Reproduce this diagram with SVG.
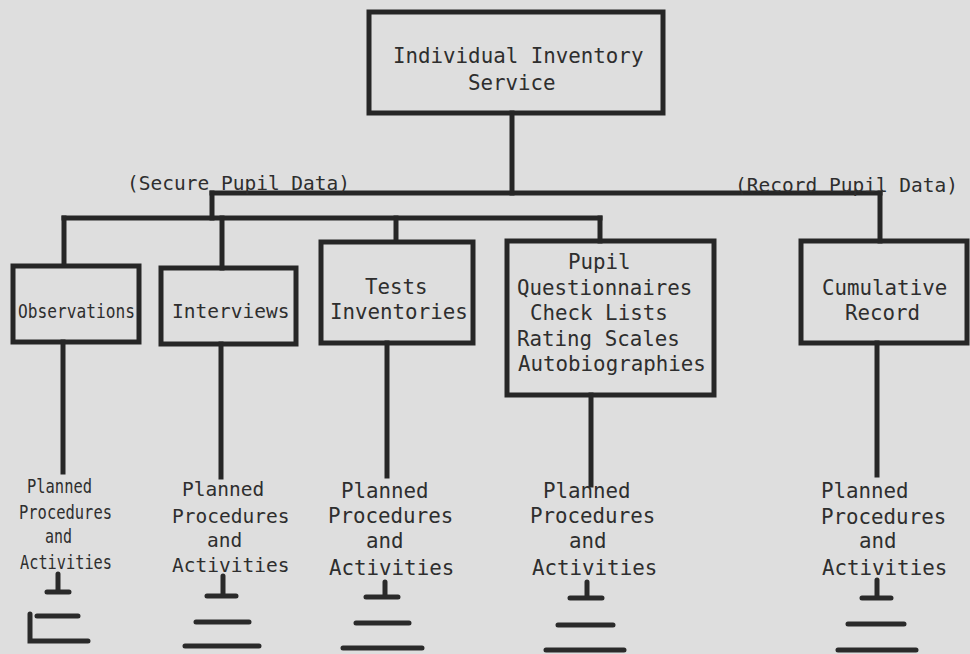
<svg xmlns="http://www.w3.org/2000/svg" width="970" height="654" viewBox="0 0 970 654">
  <style>
    .bg { fill: #dedede; }
    .box { fill: none; stroke: #262626; stroke-width: 5; stroke-linejoin: miter; }
    .wire { fill: none; stroke: #262626; stroke-width: 5; stroke-linecap: square; }
    .mark { fill: none; stroke: #2a2a2a; stroke-width: 5; stroke-linecap: round; }
    text { font-family: "DejaVu Sans Mono", "Liberation Mono", monospace; fill: #2e2e2e; font-size: 20.8px; }
    .sm { font-size: 19px; }
    .md { font-size: 19.5px; }
  </style>

  <rect class="bg" x="0" y="0" width="970" height="654"/>

  <!-- tree connectors -->
  <g id="connectors">
    <path class="wire" d="M512,113 V193"/>
    <path class="wire" d="M212,193 H880"/>
    <path class="wire" d="M212,193 V218"/>
    <path class="wire" d="M64,218 H600"/>
    <path class="wire" d="M64,218 V265"/>
    <path class="wire" d="M222,218 V268"/>
    <path class="wire" d="M396,218 V241"/>
    <path class="wire" d="M600,218 V241"/>
    <path class="wire" d="M880,193 V241"/>
    <!-- drops from each box to its activity list -->
    <path class="wire" d="M63,342 V472"/>
    <path class="wire" d="M221,344 V477"/>
    <path class="wire" d="M387,343 V476"/>
    <path class="wire" d="M591,395 V485"/>
    <path class="wire" d="M877,343 V475"/>
  </g>

  <g id="inventory-service">
    <rect class="box" x="369" y="12" width="294" height="101"/>
    <text x="393" y="63">Individual Inventory</text>
    <text x="468" y="90">Service</text>
  </g>

  <g id="branch-labels">
    <text class="md" x="127" y="190">(Secure Pupil Data)</text>
    <text class="md" x="735" y="192">(Record Pupil Data)</text>
  </g>

  <g id="observations">
    <rect class="box" x="13" y="266" width="126" height="76"/>
    <text class="sm" x="18" y="318" textLength="117" lengthAdjust="spacingAndGlyphs">Observations</text>
  </g>

  <g id="interviews">
    <rect class="box" x="161" y="268" width="135" height="76"/>
    <text class="md" x="172" y="318">Interviews</text>
  </g>

  <g id="tests-inventories">
    <rect class="box" x="321" y="242" width="152" height="101"/>
    <text x="365" y="294">Tests</text>
    <text x="330" y="319">Inventories</text>
  </g>

  <g id="pupil-instruments">
    <rect class="box" x="507" y="241" width="207" height="154"/>
    <text x="568" y="269">Pupil</text>
    <text x="517" y="295">Questionnaires</text>
    <text x="530" y="320">Check Lists</text>
    <text x="517" y="346">Rating Scales</text>
    <text x="518" y="371">Autobiographies</text>
  </g>

  <g id="cumulative-record">
    <rect class="box" x="801" y="241" width="166" height="102"/>
    <text x="822" y="295">Cumulative</text>
    <text x="845" y="320">Record</text>
  </g>

  <!-- activity labels under each branch -->
  <g id="activities-1">
    <text class="sm" x="27" y="493" textLength="65" lengthAdjust="spacingAndGlyphs">Planned</text>
    <text class="sm" x="19" y="519" textLength="93" lengthAdjust="spacingAndGlyphs">Procedures</text>
    <text class="sm" x="45" y="543" textLength="27" lengthAdjust="spacingAndGlyphs">and</text>
    <text class="sm" x="20" y="569" textLength="92" lengthAdjust="spacingAndGlyphs">Activities</text>
  </g>
  <g id="activities-2">
    <text class="md" x="182" y="496">Planned</text>
    <text class="md" x="172" y="523">Procedures</text>
    <text class="md" x="207" y="547">and</text>
    <text class="md" x="172" y="572">Activities</text>
  </g>
  <g id="activities-3">
    <text x="341" y="498">Planned</text>
    <text x="328" y="523">Procedures</text>
    <text x="366" y="548">and</text>
    <text x="329" y="575">Activities</text>
  </g>
  <g id="activities-4">
    <text x="543" y="498">Planned</text>
    <text x="530" y="523">Procedures</text>
    <text x="569" y="548">and</text>
    <text x="532" y="575">Activities</text>
  </g>
  <g id="activities-5">
    <text x="821" y="498">Planned</text>
    <text x="821" y="524">Procedures</text>
    <text x="859" y="548">and</text>
    <text x="822" y="575">Activities</text>
  </g>

  <!-- continuation marks below the lists -->
  <g id="marks">
    <path class="mark" d="M58,574 V591 M47,592 H69 M37,616 H78 M30,614 V641 H88"/>
    <path class="mark" d="M223,576 V596 M207,596 H236 M196,622 H249 M185,646 H259"/>
    <path class="mark" d="M385,582 V597 M366,597 H398 M356,623 H409 M343,648 H422"/>
    <path class="mark" d="M587,582 V598 M570,598 H602 M558,625 H613 M546,650 H624"/>
    <path class="mark" d="M877,580 V598 M862,598 H891 M848,624 H904 M838,650 H916"/>
  </g>
</svg>
